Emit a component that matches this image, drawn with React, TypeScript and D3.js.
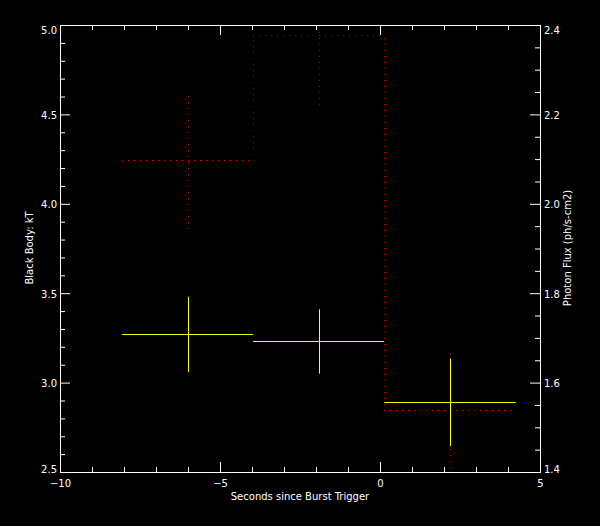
import { useEffect, useRef } from 'react';
import * as d3 from 'd3';

// time bins (seconds since burst trigger)
const binStart = [-8.06, -3.97, 0.13];
const binEnd = [-3.97, 0.13, 4.24];
const binMid = [-6.0, -1.9, 2.2];

// black body kT (left axis)
const kT = [3.27, 3.23, 2.89];
const kTErr = [0.21, 0.18, 0.245];

// photon flux (right axis)
const flux = [2.097, 2.377, 1.538];
const fluxErrHi = [0.144, 0.154, 0.14];
const fluxErrLo = [0.152, 0.154, 0.14];
const fluxColors = ['#ff0000', '#a00000', '#ff0000'];

// ticks
const xMajor = [-10, -5, 0, 5];
const xMajorLabels = ['\u221210', '\u22125', '0', '5'];
const xMinor = [-10, -9, -8, -7, -6, -5, -4, -3, -2, -1, 0, 1, 2, 3, 4, 5];
const kTMajor = [2.5, 3.0, 3.5, 4.0, 4.5, 5.0];
const kTMajorLabels = ['2.5', '3.0', '3.5', '4.0', '4.5', '5.0'];
const kTMinor = [2.6, 2.7, 2.8, 2.9, 3.1, 3.2, 3.3, 3.4, 3.6, 3.7, 3.8, 3.9, 4.1, 4.2, 4.3, 4.4, 4.6, 4.7, 4.8, 4.9];
const fluxMajor = [1.4, 1.6, 1.8, 2.0, 2.2, 2.4];
const fluxMajorLabels = ['1.4', '1.6', '1.8', '2.0', '2.2', '2.4'];
const fluxMinor = [1.45, 1.5, 1.55, 1.65, 1.7, 1.75, 1.85, 1.9, 1.95, 2.05, 2.1, 2.15, 2.25, 2.3, 2.35];

const W = 600;
const H = 526;
const FONT = '"DejaVu Sans", sans-serif';

export default function App() {
  const svgRef = useRef<SVGSVGElement>(null);

  useEffect(() => {
    document.body.style.margin = '0';
    document.body.style.background = '#000';
    if (!svgRef.current) return;

    const svg = d3.select(svgRef.current);
    svg.selectAll('*').remove();

    const left = 60, right = 540, top = 25, bottom = 472;
    const x = d3.scaleLinear().domain([-10, 5]).range([left, right]);
    const yL = d3.scaleLinear().domain([2.5, 5]).range([bottom, top]);
    const yR = d3.scaleLinear().domain([1.4, 2.4]).range([bottom, top]);
    const px = (v: number) => Math.round(v) + 0.5;

    svg.append('rect').attr('width', W).attr('height', H).attr('fill', '#000');

    const style = (g: any) => {
      g.attr('font-family', FONT).attr('font-size', 10);
      g.select('.domain').attr('stroke', '#fff');
      g.selectAll('line').attr('stroke', '#fff');
      g.selectAll('text').attr('fill', '#fff');
    };

    // bottom
    svg.append('g').attr('transform', `translate(0,${bottom})`)
      .call(d3.axisBottom(x).tickValues(xMinor).tickSizeInner(-5).tickSizeOuter(0).tickFormat(() => ''))
      .call(style);
    svg.append('g').attr('transform', `translate(0,${bottom})`)
      .call(d3.axisBottom(x).tickValues(xMajor).tickSizeInner(-10).tickSizeOuter(0).tickPadding(8)
        .tickFormat((_d, i) => xMajorLabels[i]))
      .call(style);
    // top
    svg.append('g').attr('transform', `translate(0,${top})`)
      .call(d3.axisTop(x).tickValues(xMinor).tickSizeInner(-5).tickSizeOuter(0).tickFormat(() => ''))
      .call(style);
    svg.append('g').attr('transform', `translate(0,${top})`)
      .call(d3.axisTop(x).tickValues(xMajor).tickSizeInner(-10).tickSizeOuter(0).tickFormat(() => ''))
      .call(style);

    // left
    svg.append('g').attr('transform', `translate(${left},0)`)
      .call(d3.axisLeft(yL).tickValues(kTMinor).tickSizeInner(-5).tickSizeOuter(0).tickFormat(() => ''))
      .call(style);
    const gl = svg.append('g').attr('transform', `translate(${left},0)`)
      .call(d3.axisLeft(yL).tickValues(kTMajor).tickSizeInner(-10).tickSizeOuter(0).tickPadding(3)
        .tickFormat((_d, i) => kTMajorLabels[i]))
      .call(style);
    // right
    svg.append('g').attr('transform', `translate(${right},0)`)
      .call(d3.axisRight(yR).tickValues(fluxMinor).tickSizeInner(-5).tickSizeOuter(0).tickFormat(() => ''))
      .call(style);
    const gr = svg.append('g').attr('transform', `translate(${right},0)`)
      .call(d3.axisRight(yR).tickValues(fluxMajor).tickSizeInner(-10).tickSizeOuter(0).tickPadding(4)
        .tickFormat((_d, i) => fluxMajorLabels[i]))
      .call(style);

    [gl, gr].forEach(g => {
      const n = g.selectAll('.tick text').size();
      g.selectAll('.tick text').attr('dy', (_d: any, i: number) =>
        i === 0 ? '0.05em' : i === n - 1 ? '0.8em' : '0.4em');
    });

    // titles
    svg.append('text').attr('x', 300).attr('y', 500).attr('text-anchor', 'middle')
      .attr('fill', '#fff').attr('font-family', FONT).attr('font-size', 10)
      .text('Seconds since Burst Trigger');
    svg.append('text').attr('transform', 'translate(33,248) rotate(-90)').attr('text-anchor', 'middle')
      .attr('fill', '#fff').attr('font-family', FONT).attr('font-size', 10)
      .text('Black Body: kT');
    svg.append('text').attr('transform', 'translate(571,248) rotate(-90)').attr('text-anchor', 'middle')
      .attr('fill', '#fff').attr('font-family', FONT).attr('font-size', 10)
      .text('Photon Flux (ph/s-cm2)');

    // data
    svg.append('clipPath').attr('id', 'plot-clip')
      .append('rect').attr('x', left).attr('y', top).attr('width', right - left).attr('height', bottom - top);
    const plot = svg.append('g').attr('clip-path', 'url(#plot-clip)');

    // dotted photon-flux histogram: 1px dots on a 6px pitch, starting at (x1, y1)
    const dotted = (x1: number, y1: number, x2: number, y2: number, c: string) => {
      const len = Math.hypot(x2 - x1, y2 - y1);
      const n = Math.floor(len / 6);
      const steps = d3.range(n + 1).map(k => (n === 0 ? 0 : (k * 6) / len));
      plot.append('g').selectAll('rect').data(steps).join('rect')
        .attr('x', t => Math.round(x1 + (x2 - x1) * t))
        .attr('y', t => Math.round(y1 + (y2 - y1) * t))
        .attr('width', 1).attr('height', 1)
        .attr('fill', c).attr('shape-rendering', 'crispEdges');
    };

    flux.forEach((f, i) => {
      const c = fluxColors[i];
      const yy = yR(f);
      dotted(x(binStart[i]), yy, x(binEnd[i]), yy, c);
      const xm = x(binMid[i]);
      // verticals drawn bottom-up
      dotted(xm, yR(f - fluxErrLo[i]), xm, yR(f + fluxErrHi[i]), c);
      if (i > 0) {
        const xs = x(binStart[i]);
        const a = yR(flux[i - 1]), b = yR(f);
        dotted(xs, Math.max(a, b), xs, Math.min(a, b), c);
      }
    });

    kT.forEach((k, i) => {
      const yy = px(yL(k));
      plot.append('line').attr('x1', x(binStart[i])).attr('x2', x(binEnd[i]))
        .attr('y1', yy).attr('y2', yy).attr('stroke', '#ffff00').attr('stroke-width', 1);
      const xm = px(x(binMid[i]));
      plot.append('line').attr('x1', xm).attr('x2', xm)
        .attr('y1', yL(k + kTErr[i])).attr('y2', yL(k - kTErr[i]))
        .attr('stroke', '#ffff00').attr('stroke-width', 1);
    });
  }, []);

  return <svg ref={svgRef} width={W} height={H} style={{ display: 'block' }} />;
}
